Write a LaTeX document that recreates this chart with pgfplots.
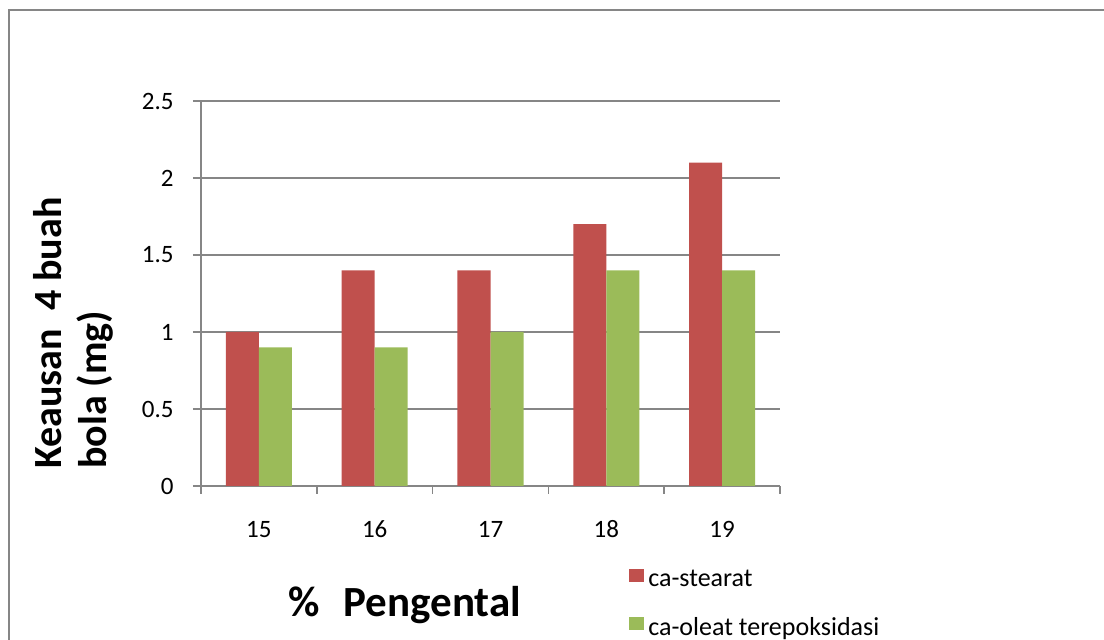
\documentclass[border=0pt]{standalone}
\usepackage{fontspec}
\setmainfont{Carlito}
\usepackage{pgfplots}
\pgfplotsset{compat=1.18}

\definecolor{stearat}{RGB}{192,80,77}
\definecolor{oleat}{RGB}{155,187,89}
\definecolor{linegray}{RGB}{134,134,134}

\begin{document}
\begin{tikzpicture}
\useasboundingbox (0,0) rectangle (552pt,320pt);
% chart area border
\draw[linegray, line width=1pt] (4.5pt,0pt) -- (4.5pt,315pt) -- (552pt,315pt);
\begin{axis}[
  at={(100.5pt,77pt)}, anchor=south west,
  scale only axis, width=289.5pt, height=192.5pt,
  xmin=14.5, xmax=19.5, ymin=0, ymax=2.5,
  ybar=0pt, bar width=16.5pt,
  axis x line*=bottom, axis y line*=left,
  axis line style={linegray, line width=0.75pt},
  ymajorgrids, grid style={linegray, line width=0.75pt},
  tick align=outside, major tick length=4pt,
  tick style={linegray, line width=0.75pt},
  xtick={14.5,15.5,16.5,17.5,18.5,19.5},
  xticklabels={15,16,17,18,19,},
  xticklabel style={xshift=28.95pt, anchor=base, inner sep=0pt, yshift=-22pt},
  ytick={0,0.5,1,1.5,2,2.5},
  yticklabels={0,0.5,1,1.5,2,2.5},
  yticklabel style={anchor=east, inner sep=0pt, xshift=-9.5pt},
  tick label style={font=\fontsize{12.5pt}{15pt}\selectfont, text=black},
  /pgf/number format/assume math mode=true,
  xlabel={\%\hspace{12pt}Pengental},
  ylabel={Keausan\ \ 4 buah\\bola (mg)},
  every axis x label/.style={at={(rel axis cs:0.352,-0.340)}, anchor=base,
    font=\fontsize{21.5pt}{24pt}\selectfont\bfseries},
  every axis y label/.style={at={(rel axis cs:-0.221,0.397)}, rotate=90,
    anchor=center, align=left,
    font=\fontsize{20pt}{22.5pt}\selectfont\bfseries},
  legend style={draw=none, fill=none, at={(rel axis cs:0.739,-0.207)},
    anchor=north west, font=\fontsize{13pt}{15pt}\selectfont,
    row sep=10pt, inner sep=0pt},
  legend cell align=left,
  legend image code/.code={\fill[#1] (0pt,-1pt) rectangle (7.5pt,5.5pt);},
]
\addplot[fill=stearat, draw=none] coordinates {(15,1.0) (16,1.4) (17,1.4) (18,1.7) (19,2.1)};
\addplot[fill=oleat, draw=none] coordinates {(15,0.9) (16,0.9) (17,1.0) (18,1.4) (19,1.4)};
\legend{ca-stearat, ca-oleat terepoksidasi}
\end{axis}
\end{tikzpicture}
\end{document}
